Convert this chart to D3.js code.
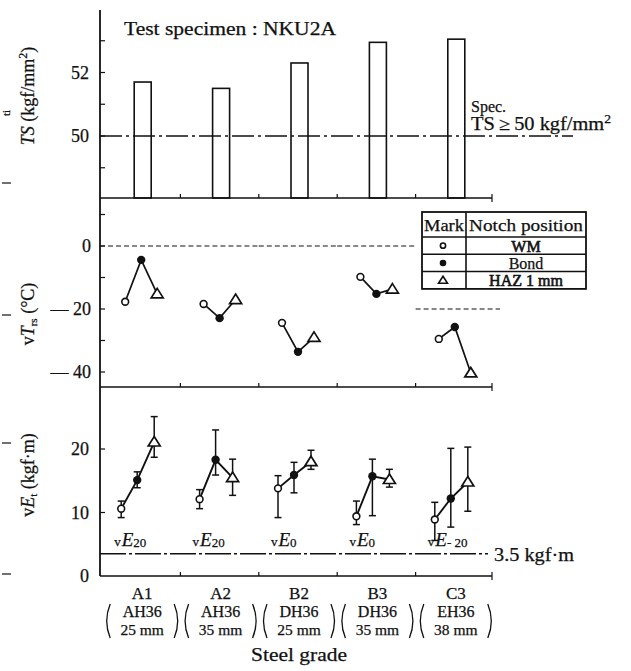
<!DOCTYPE html>
<html>
<head>
<meta charset="utf-8">
<script src="https://cdn.jsdelivr.net/npm/d3@7"></script>
<style>
  body { margin: 0; background: #fff; }
  svg { font-family: "Liberation Serif", "DejaVu Serif", serif; }
  text { fill: #111; stroke: #111; stroke-width: 0.25; }
</style>
</head>
<body>
<svg width="631" height="671"></svg>
<script>
const grades = ['A1', 'A2', 'B2', 'B3', 'C3'];
const gradeSpec = ['AH36', 'AH36', 'DH36', 'DH36', 'EH36'];
const thickness = ['25 mm', '35 mm', '25 mm', '35 mm', '38 mm'];

// tensile strength, kgf/mm2
const tsValues = [51.7, 51.5, 52.3, 52.95, 53.05];
const tsTicks = [49, 50, 51, 52, 53];
const tsLabels = [50, 52];
const tsSpec = 50;

// fracture appearance transition temperature, C
const trsWM = [-17.7, -18.4, -24.4, -9.8, -29.5];
const trsBond = [-4.4, -22.9, -33.6, -15.2, -25.7];
const trsHAZ = [-15.2, -17.0, -29.0, -13.7, -40.3];
const trsRef = [0, 0, 0, 0, -20];
const trsTicks = [10, 0, -10, -20, -30, -40];
const trsLabels = [0, -20, -40];

// absorbed energy at test temperature, kgf.m (mean, min, max)
const veWM = [10.6, 12.1, 13.8, 9.4, 8.9];
const veWMmin = [9.2, 10.6, 9.2, 8.1, 5.6];
const veWMmax = [11.8, 13.6, 15.8, 11.8, 11.6];
const veBond = [15.1, 18.3, 15.9, 15.7, 12.2];
const veBondMin = [13.9, 15.9, 13.1, 9.5, 7.7];
const veBondMax = [16.4, 23.0, 17.9, 18.4, 20.1];
const veHAZ = [21.1, 15.5, 18.0, 15.2, 14.8];
const veHAZmin = [18.7, 12.7, 16.8, 14.0, 10.2];
const veHAZmax = [25.1, 18.4, 19.8, 16.8, 20.3];
const veTemp = ['20', '20', '0', '0', '-20'];
const veTicks = [0, 10, 20];
const veSpec = 3.5;

const notches = ['WM', 'Bond', 'HAZ 1 mm'];

const svg = d3.select('svg');
const x = d3.scaleBand().domain(grades).range([102, 494]);
const bw = x.bandwidth();
const cx = g => x(g) + bw / 2;

const yTS = d3.scaleLinear().domain([50, 52]).range([136, 72.5]);
const yTrs = d3.scaleLinear().domain([0, -40]).range([246, 372]);
const yVE = d3.scaleLinear().domain([0, 20]).range([576, 449]);

const axisX = 100;
const topBase = 198, midBase = 387, botBase = 576;

function line(x1, y1, x2, y2, w, dash) {
  const l = svg.append('line')
    .attr('x1', x1).attr('y1', y1).attr('x2', x2).attr('y2', y2)
    .attr('stroke', '#111').attr('stroke-width', w || 1.3);
  if (dash) l.attr('stroke-dasharray', dash);
  return l;
}

// main vertical axis
line(axisX, 10, axisX, botBase, 1.8);

// panel base lines with band ticks
[topBase, midBase, botBase].forEach(yb => {
  line(axisX, yb, 492, yb, 1.6);
  grades.slice(1).forEach(g => line(x(g), yb, x(g), yb - 4, 1.2));
  line(492, yb - 4, 492, yb + 4, 1.2);
});

// left axis ticks (inward)
tsTicks.forEach(t => line(axisX, yTS(t), axisX + 5, yTS(t), 1.2));
trsTicks.forEach(t => line(axisX, yTrs(t), axisX + 5, yTrs(t), 1.2));
veTicks.slice(1).forEach(t => line(axisX, yVE(t), axisX + 5, yVE(t), 1.2));

svg.selectAll('.tsl').data(tsLabels).enter().append('text')
  .attr('x', 89).attr('y', d => yTS(d) + 6)
  .attr('text-anchor', 'end').attr('font-size', 18).text(d => d);
svg.selectAll('.trsl').data(trsLabels).enter().append('text')
  .attr('x', 91).attr('y', d => yTrs(d) + 6)
  .attr('text-anchor', 'end').attr('font-size', 18)
  .text(d => d < 0 ? '\u2014 ' + Math.abs(d) : d);
svg.selectAll('.vel').data(veTicks).enter().append('text')
  .attr('x', 89).attr('y', d => yVE(d) + 6)
  .attr('text-anchor', 'end').attr('font-size', 18).text(d => d);

// ---- top panel: tensile strength bars
svg.selectAll('.bar').data(tsValues).enter().append('rect')
  .attr('x', (d, i) => cx(grades[i]) - 7)
  .attr('y', d => yTS(d))
  .attr('width', 17)
  .attr('height', d => topBase - yTS(d))
  .attr('fill', 'none').attr('stroke', '#111').attr('stroke-width', 1.6);

line(axisX, yTS(tsSpec), 573, yTS(tsSpec), 1.3, '22,4,3,4');

svg.append('text').attr('x', 124).attr('y', 35).attr('font-size', 18)
  .attr('textLength', 212).attr('lengthAdjust', 'spacingAndGlyphs')
  .text('Test specimen : NKU2A');
svg.append('text').attr('x', 471).attr('y', 112).attr('font-size', 16)
  .text('Spec.');
svg.append('text').attr('x', 471).attr('y', 130).attr('font-size', 18)
  .attr('textLength', 140).attr('lengthAdjust', 'spacingAndGlyphs')
  .html('TS\u2009\u2265\u200950 kgf/mm<tspan dy="-7" font-size="12">2</tspan>');

// ---- middle panel: vTrs
trsRef.forEach((r, i) => {
  const g = grades[i];
  const x1 = i === 0 ? axisX : x(g);
  const x2 = i === grades.length - 1 ? 500 : x(g) + bw;
  line(x1, yTrs(r), x2, yTrs(r), 1, '5,3');
});

function marker(px, py, k) {
  if (k === 0) {
    svg.append('circle').attr('cx', px).attr('cy', py).attr('r', 3.4)
      .attr('fill', '#fff').attr('stroke', '#111').attr('stroke-width', 1.6);
  } else if (k === 1) {
    svg.append('circle').attr('cx', px).attr('cy', py).attr('r', 4.2)
      .attr('fill', '#111');
  } else {
    svg.append('path')
      .attr('d', `M${px},${py - 5.5}L${px + 6},${py + 4}L${px - 6},${py + 4}Z`)
      .attr('fill', '#fff').attr('stroke', '#111').attr('stroke-width', 1.7);
  }
}

const trsOff = [-16, 0, 16];
const trsSeries = [trsWM, trsBond, trsHAZ];
grades.forEach((g, i) => {
  const pts = trsSeries.map((s, k) => [cx(g) + trsOff[k], yTrs(s[i])]);
  svg.append('path').attr('d', d3.line()(pts))
    .attr('fill', 'none').attr('stroke', '#111').attr('stroke-width', 1.7);
  pts.forEach((p, k) => marker(p[0], p[1], k));
});

// legend table
const lg = { x: 422, y: 212, w: 164, hh: 25, rh: 17.3, cw: 44 };
const lgH = lg.hh + lg.rh * 3;
svg.append('rect').attr('x', lg.x).attr('y', lg.y).attr('width', lg.w).attr('height', lgH)
  .attr('fill', '#fff').attr('stroke', '#111').attr('stroke-width', 1.8);
line(lg.x + lg.cw, lg.y, lg.x + lg.cw, lg.y + lgH, 1.6);
[0, 1, 2].forEach(k => line(lg.x, lg.y + lg.hh + k * lg.rh, lg.x + lg.w, lg.y + lg.hh + k * lg.rh, 1.5));
svg.append('text').attr('x', lg.x + 2).attr('y', lg.y + 19).attr('font-size', 17)
  .attr('textLength', 40).attr('lengthAdjust', 'spacingAndGlyphs').text('Mark');
svg.append('text').attr('x', lg.x + lg.cw + 3).attr('y', lg.y + 19).attr('font-size', 17)
  .attr('textLength', 114).attr('lengthAdjust', 'spacingAndGlyphs').text('Notch position');
notches.forEach((n, k) => {
  const ry = lg.y + lg.hh + k * lg.rh + lg.rh / 2;
  svg.append('text').attr('x', lg.x + lg.cw + (lg.w - lg.cw) / 2).attr('y', ry + 6)
    .attr('text-anchor', 'middle').attr('font-size', 16)
    .style('stroke-width', k === 1 ? 0.25 : 0.6)
    .text(n);
  const px = lg.x + 21, py = ry;
  if (k === 0) {
    svg.append('circle').attr('cx', px).attr('cy', py).attr('r', 2.6)
      .attr('fill', '#fff').attr('stroke', '#111').attr('stroke-width', 1.6);
  } else if (k === 1) {
    svg.append('circle').attr('cx', px).attr('cy', py).attr('r', 3.3).attr('fill', '#111');
  } else {
    svg.append('path').attr('d', `M${px},${py - 4}L${px + 4.5},${py + 3}L${px - 4.5},${py + 3}Z`)
      .attr('fill', '#fff').attr('stroke', '#111').attr('stroke-width', 1.6);
  }
});

// ---- bottom panel: vE
const veOff = [-20, -4, 13];
const veSeries = [[veWM, veWMmin, veWMmax], [veBond, veBondMin, veBondMax], [veHAZ, veHAZmin, veHAZmax]];
grades.forEach((g, i) => {
  const pts = veSeries.map((s, k) => [cx(g) + veOff[k], yVE(s[0][i])]);
  veSeries.forEach((s, k) => {
    const px = pts[k][0];
    line(px, yVE(s[1][i]), px, yVE(s[2][i]), 1.5);
    line(px - 3.5, yVE(s[1][i]), px + 3.5, yVE(s[1][i]), 1.5);
    line(px - 3.5, yVE(s[2][i]), px + 3.5, yVE(s[2][i]), 1.5);
  });
  svg.append('path').attr('d', d3.line()(pts))
    .attr('fill', 'none').attr('stroke', '#111').attr('stroke-width', 1.9);
  pts.forEach((p, k) => marker(p[0], p[1], k));

  svg.append('text').attr('x', cx(g) - 27).attr('y', 546)
    .html(`<tspan font-size="13">v</tspan><tspan font-size="19" font-style="italic" dx="1">E</tspan>` +
      `<tspan font-size="13" dy="1">${veTemp[i].replace('-', '- ')}</tspan>`);
});

line(axisX, yVE(veSpec), 488, yVE(veSpec), 1.4, '26,3,3,3');
svg.append('text').attr('x', 494).attr('y', 561).attr('font-size', 18)
  .attr('textLength', 80).attr('lengthAdjust', 'spacingAndGlyphs')
  .text('3.5 kgf\u00b7m');

// ---- x labels
grades.forEach((g, i) => {
  const c = cx(g) + 1;
  svg.append('text').attr('x', c).attr('y', 599).attr('text-anchor', 'middle')
    .attr('font-size', 17).text(g);
  svg.append('text').attr('x', c).attr('y', 617).attr('text-anchor', 'middle')
    .attr('font-size', 16).text(gradeSpec[i]);
  svg.append('text').attr('x', c).attr('y', 635).attr('text-anchor', 'middle')
    .attr('font-size', 15.5).text(thickness[i]);
  const lx = c - 35, rx = c + 35;
  svg.append('path').attr('d', `M${lx + 3},604Q${lx - 4},621 ${lx + 3},638`)
    .attr('fill', 'none').attr('stroke', '#111').attr('stroke-width', 1.3);
  svg.append('path').attr('d', `M${rx - 3},604Q${rx + 4},621 ${rx - 3},638`)
    .attr('fill', 'none').attr('stroke', '#111').attr('stroke-width', 1.3);
});
svg.append('text').attr('x', 299).attr('y', 661).attr('text-anchor', 'middle')
  .attr('font-size', 18).attr('textLength', 96).attr('lengthAdjust', 'spacingAndGlyphs')
  .text('Steel grade');

// ---- y titles
function ytitle(cy, html) {
  svg.append('text').attr('transform', `translate(34,${cy}) rotate(-90)`)
    .attr('text-anchor', 'middle').attr('font-size', 18).html(html);
}
ytitle(96, '<tspan font-style="italic">TS</tspan> (kgf/mm<tspan dy="-7" font-size="12">2</tspan><tspan dy="7">)</tspan>');
ytitle(314, 'v<tspan font-style="italic">T</tspan><tspan font-size="11" dy="3">rs</tspan><tspan dy="-3"> (°C)</tspan>');
ytitle(475, 'v<tspan font-style="italic">E</tspan><tspan font-size="11" dy="3">t</tspan><tspan dy="-3"> (kgf·m)</tspan>');

// scan marks at left edge
[183, 315, 443, 574].forEach(yy => line(2, yy, 11, yy, 1.2));
svg.append('text').attr('transform', 'translate(10,113) rotate(-90)')
  .attr('text-anchor', 'middle').attr('font-size', 11).text('ti');
</script>
</body>
</html>
